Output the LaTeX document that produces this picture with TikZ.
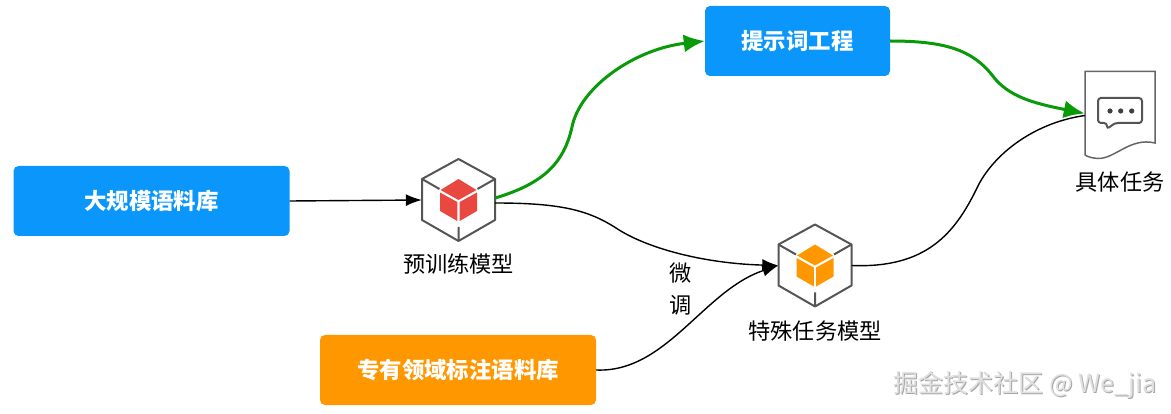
\documentclass[tikz,border=0pt]{standalone}
\usepackage{fontspec}
\setmainfont{Noto Sans CJK SC}
\usetikzlibrary{arrows.meta}
\definecolor{boxblue}{HTML}{0A96FA}
\definecolor{boxorange}{HTML}{FF9800}
\definecolor{cubered}{HTML}{E8483F}
\definecolor{cubeline}{HTML}{555555}
\definecolor{greenline}{HTML}{089A08}
\tikzset{
  x=1pt,y=-1pt,
  box/.style={rounded corners=5pt,minimum height=70pt,text=white,font=\fontsize{22.4}{26}\selectfont\bfseries,inner sep=0pt},
  lab/.style={font=\fontsize{22.2}{26}\selectfont,text=black,inner sep=0pt},
  iconframe/.style={minimum width=73pt,minimum height=82pt,inner sep=0pt},
  blackflow/.style={draw=black,line width=1.4pt,-{Latex[length=16pt,width=12pt]}},
  blackplain/.style={draw=black,line width=1.4pt},
  greenflow/.style={draw=greenline,line width=3pt,-{Latex[length=21pt,width=18pt]}},
  pics/cubeicon/.style={code={
    \draw[cubeline,line width=2pt,line join=round] (0,-41)--(36.5,-21)--(36.5,20)--(0,41)--(-36.5,20)--(-36.5,-21)--cycle;
    \draw[cubeline,line width=2pt] (-36.5,-21)--(-19,-11) (36.5,-21)--(19,-11) (0,41)--(0,27);
    \fill[#1] (0,-21)--(18,-10)--(0,0)--(-18,-10)--cycle;
    \fill[#1] (-18.5,-7.5)--(-1.2,2)--(-1.2,21)--(-18.5,11)--cycle;
    \fill[#1] (18.5,-7.5)--(1.2,2)--(1.2,21)--(18.5,11)--cycle;
  }}
}
\begin{document}
\begin{tikzpicture}
\useasboundingbox (0,0) rectangle (1171,414);
\node[box,fill=boxblue,minimum width=276pt] (corpus) at (151.5,201) {大规模语料库};
\node[box,fill=boxblue,minimum width=185pt] (prompt) at (797.5,41) {提示词工程};
\node[box,fill=boxorange,minimum width=276pt] (domain) at (458,370) {专有领域标注语料库};
\node[iconframe] (pre) at (458.5,200) {};
\pic at (pre.center) {cubeicon=cubered};
\node[iconframe] (spec) at (815,265.5) {};
\pic at (spec.center) {cubeicon=boxorange};
\node[minimum width=70pt,minimum height=87pt,inner sep=0pt] (doc) at (1120,115.5) {};
\draw[cubeline!90,line width=1.5pt] (1085,71.5)--(1155,71.5)--(1155,143) .. controls (1130,137) and (1115,159) .. (1098,158.5) .. controls (1092,158) and (1088,157) .. (1085,155)--cycle;
\draw[cubeline,line width=2pt,rounded corners=3pt] (1103,98)--(1142,98)--(1142,123)--(1115,123)--(1107,129)--(1107,123)--(1098,123)--(1098,98)--cycle;
\foreach \bx in {1110,1120.7,1131.7}{\fill[black!75] (\bx,111) circle (2.6pt);}
\node[lab] (prelab) at (458.5,264) {预训练模型};
\node[lab] (speclab) at (815,331) {特殊任务模型};
\node[lab] (doclab) at (1120,182) {具体任务};
\node[lab,align=center] (tune) at (681,289) {微\\[6pt]调};
\coordinate (gmid) at (572,127);
\coordinate (hmid) at (992,75);
\coordinate (bmid) at (616,228);
\coordinate (dmid) at (977,188);
\draw[blackflow] (corpus.east) -- (pre.west);
\draw[blackflow] ([yshift=-3pt]pre.east) .. controls +(65,0) and +(-28,-18) .. (bmid) .. controls +(30,20) and +(-75,-2) .. (spec.west);
\draw[blackflow] (domain.east) .. controls +(70,3) and +(-75,25) .. (spec.west);
\draw[blackplain] (spec.east) .. controls +(75,3) and +(-22,45) .. (dmid) .. controls +(14,-30) and +(-55,8) .. (doc.west);
\draw[greenflow] ([yshift=2pt]pre.east) .. controls +(50,-15) and +(-8,35) .. (gmid) .. controls +(8,-40) and +(-70,8) .. (prompt.west);
\draw[greenflow] (prompt.east) .. controls +(55,0) and +(-20,-25) .. (hmid) .. controls +(16,22) and +(-50,-10) .. ([yshift=2pt]doc.west);
\node[font=\fontsize{25}{28}\selectfont,text=black!35,inner sep=0pt,anchor=east] (markshadow) at (1157.5,386) {掘金技术社区 @ We\_jia};
\node[font=\fontsize{25}{28}\selectfont,text=black!12,inner sep=0pt,anchor=east] (mark) at (1156.5,385) {掘金技术社区 @ We\_jia};
\end{tikzpicture}
\end{document}
